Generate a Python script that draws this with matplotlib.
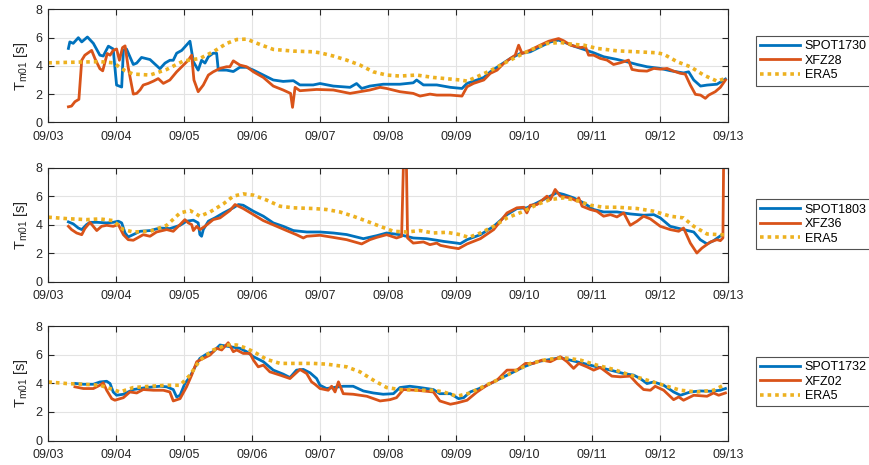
import numpy as np
import pandas as pd
import matplotlib
matplotlib.use("Agg")
import matplotlib.pyplot as plt

plt.rcParams['font.family'] = ['Liberation Sans', 'DejaVu Sans']
plt.rcParams['mathtext.fontset'] = 'custom'
plt.rcParams['mathtext.rm'] = 'Liberation Sans'
plt.rcParams['mathtext.it'] = 'Liberation Sans:italic'

T0 = pd.Timestamp('2023-09-03 00:00')
xticks_labels = ['09/03', '09/04', '09/05', '09/06', '09/07', '09/08',
                 '09/09', '09/10', '09/11', '09/12', '09/13']
yticks = [0, 2, 4, 6, 8]

# ---------------- Panel 1 ----------------
p1_spot_h = [7.1, 7.6, 8.8, 10.6, 11.8, 13.8, 15.9, 18.2, 19.4, 21.2, 22.9, 23.5, 24.1, 25.9, 26.5,
             27.6, 30.0, 31.2, 32.9, 35.9, 39.4, 41.2, 42.9, 44.1, 45.3, 47.1, 50.0, 51.2, 52.9, 54.1,
             55.3, 56.5, 58.2, 59.4, 60.0, 62.9, 65.3, 67.6, 70.0, 72.4, 75.9, 79.4, 82.9, 86.5, 88.8,
             93.5, 95.9, 100.6, 106.5, 108.8, 110.6, 113.5, 118.2, 124.1, 128.8, 130.0, 132.4, 137.1,
             141.9, 146.0, 147.8, 151.3, 153.7, 156.0, 159.5, 163.1, 166.6, 170.1, 173.6, 177.2, 180.1,
             181.9, 185.5, 189.0, 192.5, 196.0, 200.7, 204.2, 207.8, 211.3, 216.0, 219.5, 224.2, 226.0,
             227.8, 230.2, 232.5, 236.0, 239.0]
p1_spot_v = [5.24, 5.7, 5.6, 6.0, 5.7, 6.05, 5.6, 4.76, 4.7, 5.4, 5.2, 3.9, 2.64, 2.5, 5.1,
             5.2, 4.1, 4.2, 4.6, 4.45, 3.8, 4.2, 4.4, 4.4, 4.9, 5.1, 5.75, 4.3, 3.7, 4.4,
             4.2, 4.65, 4.9, 4.9, 3.7, 3.7, 3.6, 3.9, 3.9, 3.7, 3.35, 3.0, 2.9, 2.95, 2.65,
             2.65, 2.75, 2.57, 2.48, 2.75, 2.4, 2.57, 2.7, 2.7, 2.8, 3.0, 2.65, 2.65,
             2.48, 2.4, 2.76, 3.0, 3.18, 3.58, 4.06, 4.53, 4.88, 5.0, 5.35, 5.7, 5.83,
             5.7, 5.4, 5.17, 4.93, 4.65, 4.46, 4.29, 4.1, 3.94, 3.82, 3.66, 3.5, 3.58,
             3.0, 2.57, 2.64, 2.7, 3.07]
p1_xfz_h = [7.1, 8.2, 9.4, 10.8, 11.8, 12.9, 15.3, 16.5, 18.2, 19.2, 20.8, 21.8, 22.9, 24.1, 25.1,
            26.2, 27.1, 28.2, 30.0, 31.2, 32.4, 33.5, 35.3, 37.1, 38.8, 40.6, 42.9, 45.3, 47.1, 49.4,
            50.6, 51.4, 52.9, 54.7, 56.5, 58.2, 60.6, 62.9, 64.1, 65.3, 67.6, 70.0, 72.4, 75.9, 79.4,
            82.9, 85.5, 86.2, 87.1, 88.8, 94.7, 100.6, 106.5, 110.0, 113.5, 117.1, 119.4, 124.1, 128.8,
            131.2, 134.7, 137.1,
            141.9, 146.0, 147.8, 150.1, 153.7, 156.0, 158.4, 160.7, 163.1, 164.8, 166.0, 167.2, 170.1,
            173.6, 176.6, 180.1, 181.9, 184.3, 187.8, 189.6, 190.7, 192.5, 194.8, 197.2, 199.5, 201.9,
            204.8, 206.0, 208.4, 211.3, 213.7, 216.0, 218.4, 220.7, 223.1, 224.8, 226.6, 228.4, 230.2,
            231.9, 233.1, 235.4, 237.2, 239.0]
p1_xfz_v = [1.1, 1.15, 1.46, 1.63, 4.4, 4.76, 5.1, 4.5, 3.8, 3.65, 4.88, 4.76, 5.1, 5.2, 4.4,
            5.3, 5.42, 3.9, 2.0, 2.05, 2.3, 2.64, 2.76, 2.92, 3.1, 2.76, 3.0, 3.58, 3.94, 4.4,
            4.76, 3.0, 2.17, 2.64, 3.35, 3.58, 3.82, 3.94, 3.94, 4.36, 4.06, 3.94, 3.58, 3.18, 2.57,
            2.29, 2.05, 1.06, 2.48, 2.24, 2.33, 2.29, 2.05, 2.17, 2.29, 2.48, 2.4, 2.17, 2.05,
            1.86, 2.0, 1.93,
            1.93, 1.86, 2.52, 2.76, 3.0, 3.47, 3.7, 4.17, 4.53, 4.76, 5.47, 4.88, 5.12,
            5.47, 5.75, 5.94, 5.78, 5.47, 5.3, 5.35, 4.76, 4.76, 4.53, 4.41, 4.1, 4.22,
            4.41, 3.75, 3.66, 3.63, 3.82, 3.77, 3.82, 3.63, 3.47, 3.42, 2.64, 1.98, 1.93,
            1.7, 1.93, 2.17, 2.48, 3.0]
p1_era_h = [0, 6.5, 18.2, 22.9, 27.1, 30.0, 35.9, 41.8, 47.6, 53.5, 58.2, 62.9, 66.5, 70.0, 74.7,
            79.4, 86.5, 93.5, 95.9, 100.6, 105.3, 110.0, 114.7, 119.4, 124.1, 130.0, 135.9,
            145.4, 147.8, 151.3, 156.0, 160.7, 165.4, 170.1, 176.0, 180.7, 185.5, 189.0, 193.7,
            200.7, 207.8, 214.8, 217.2, 221.9, 226.6, 231.3, 236.0, 239.0]
p1_era_v = [4.22, 4.25, 4.3, 4.22, 3.66, 3.42, 3.35, 3.75, 4.34, 4.53, 5.0, 5.59, 5.87, 5.9, 5.52,
            5.17, 5.05, 5.0, 4.93, 4.7, 4.41, 4.06, 3.58, 3.35, 3.28, 3.35, 3.18,
            3.0, 2.92, 3.23, 3.66, 4.17, 4.65, 5.12, 5.59, 5.66, 5.52, 5.47, 5.24,
            5.07, 5.0, 4.93, 4.83, 4.3, 3.94, 3.35, 2.92, 3.11]

# ---------------- Panel 2 ----------------
p2_spot_h = [7.1, 8.8, 10.6, 11.8, 13.5, 14.7, 17.1, 20.6, 22.9, 24.7, 25.9, 27.1, 28.2, 30.0, 32.4,
             35.9, 39.4, 42.9, 46.5, 48.8, 51.2, 52.9, 53.5, 54.1, 54.7, 56.5, 58.8, 61.8, 65.3, 67.1,
             68.8, 72.4, 75.9, 79.4, 82.9, 86.5, 91.2, 95.9, 100.6, 105.3, 111.2, 115.9, 119.4, 124.1,
             128.8, 133.5, 137.1,
             139.5, 144.2, 145.4, 147.8, 152.5, 157.2, 161.9, 165.4, 168.9, 172.5, 176.0, 179.5, 181.9,
             185.4, 188.9, 192.5, 196.0, 200.7, 205.4, 210.1, 213.7, 216.0, 219.5, 224.2, 227.8, 230.1,
             232.5, 234.8, 237.8]
p2_spot_v = [4.19, 4.05, 3.76, 3.65, 4.0, 4.16, 4.16, 4.12, 4.16, 4.24, 4.12, 3.41, 3.13, 3.3, 3.53,
             3.58, 3.76, 3.72, 3.95, 4.24, 4.31, 4.12, 3.3, 3.18, 3.65, 4.24, 4.47, 4.82, 5.18, 5.41,
             5.36, 4.94, 4.59, 4.12, 3.88, 3.58, 3.48, 3.48, 3.41, 3.3, 3.01, 3.22, 3.41, 3.29,
             3.06, 3.01, 2.9,
             2.82, 2.7, 2.66, 2.94, 3.29, 3.88, 4.7, 5.13, 5.18, 5.53, 5.88, 6.24, 6.12,
             5.88, 5.53, 5.06, 4.89, 4.89, 4.75, 4.66, 4.7, 4.47, 3.88, 3.65, 3.48, 2.94,
             2.64, 2.87, 3.29]
p2_xfz_h = [7.1, 8.2, 10.0, 11.8, 12.9, 14.7, 17.1, 18.8, 20.6, 22.9, 24.7, 26.5, 28.2, 30.0, 33.5,
            35.9, 38.2, 41.8, 44.1, 46.5, 48.2, 49.4, 50.6, 51.2, 52.4, 53.5, 55.3, 58.2, 60.6, 64.1,
            65.9, 68.8, 72.4, 75.9, 80.6, 84.1, 87.6, 90.0, 91.2, 95.9, 100.6, 105.3, 110.6, 113.5,
            115.9, 119.4, 122.9, 124.7, 125.5, 126.3, 126.8, 128.8, 132.4, 134.7, 137.1,
            138.4, 141.9, 144.8, 147.8, 152.5, 157.2, 161.9, 165.4, 167.8, 168.9, 170.1, 172.5, 176.0,
            177.2, 178.9, 180.7, 184.2, 186.6, 187.2, 188.4, 191.3, 193.6, 196.0, 198.4, 200.7, 203.1,
            205.4, 207.8, 210.1, 212.5, 216.0, 219.5, 222.5, 224.2, 226.6, 228.9, 230.7, 233.7, 236.0,
            237.2, 238.1, 238.4]
p2_xfz_v = [3.88, 3.65, 3.41, 3.29, 3.72, 4.16, 3.58, 3.88, 3.95, 3.88, 4.0, 3.29, 2.94, 2.9, 3.29,
            3.18, 3.48, 3.65, 3.53, 4.0, 4.35, 4.12, 4.0, 3.58, 3.88, 3.65, 3.88, 4.35, 4.47, 4.99,
            5.41, 5.13, 4.7, 4.28, 3.88, 3.58, 3.29, 3.06, 3.18, 3.25, 3.1, 2.94, 2.64, 2.94,
            3.1, 3.29, 3.06, 3.18, 9.5, 9.5, 3.06, 2.7, 2.78, 2.59, 2.7,
            2.54, 2.4, 2.31, 2.64, 3.01, 3.65, 4.82, 5.18, 5.22, 4.82, 5.36, 5.41, 6.0,
            5.76, 6.47, 6.0, 5.88, 5.65, 5.88, 5.29, 5.06, 4.94, 4.59, 4.7, 4.54, 4.82,
            3.95, 4.24, 4.59, 4.4, 3.88, 3.65, 3.53, 3.76, 2.7, 2.0, 2.35, 2.78, 2.94,
            2.87, 3.06, 9.5]
p2_era_h = [0, 6.5, 13.5, 18.2, 22.9, 26.5, 30.0, 35.9, 41.8, 46.5, 50.0, 53.5, 57.1, 61.8, 65.3,
            68.8, 72.4, 77.1, 81.8, 86.5, 93.5, 98.2, 102.9, 107.6, 112.4, 117.1, 121.8, 126.5, 131.2,
            135.9, 140.7, 145.4, 148.4, 152.5, 157.2, 161.9, 167.8, 172.5, 177.2, 181.9, 186.6, 191.3,
            196.0, 200.7, 207.8, 213.7, 219.5, 224.2, 227.8, 232.5, 237.2, 239.0]
p2_era_v = [4.52, 4.42, 4.35, 4.4, 4.28, 3.65, 3.48, 3.53, 3.95, 4.82, 4.99, 4.59, 4.89, 5.46, 6.0,
            6.16, 6.07, 5.72, 5.29, 5.18, 5.13, 5.06, 4.89, 4.59, 4.24, 3.88, 3.53, 3.48, 3.58,
            3.41, 3.46, 3.29, 3.1, 3.41, 3.88, 4.47, 4.94, 5.41, 5.76, 5.88, 5.69, 5.36,
            5.22, 5.22, 5.13, 4.94, 4.59, 4.47, 3.88, 3.34, 3.29, 3.29]

# ---------------- Panel 3 ----------------
p3_spot_h = [9.4, 12.4, 15.9, 18.2, 20.6, 21.8, 22.9, 24.1, 26.5, 30.0, 34.7, 39.4, 41.8, 44.1, 45.3,
             46.5, 48.2, 50.0, 51.8, 53.5, 55.9, 58.2, 60.6, 64.1, 67.6, 70.0, 72.4, 75.9, 79.4, 82.9,
             85.3, 87.6, 90.0, 92.4, 94.7, 95.9, 98.2, 100.6, 104.1, 107.6, 111.2, 114.7, 118.2, 121.8,
             124.1, 127.6, 131.2, 135.9, 138.2,
             141.9, 144.8, 146.6, 148.9, 153.7, 158.4, 163.1, 167.8, 172.5, 177.2, 180.7, 184.2, 188.9,
             193.6, 198.4, 203.1, 206.6, 208.9, 211.3, 213.7, 217.2, 220.7, 223.1, 226.6, 230.1, 233.7,
             237.2, 239.0]
p3_spot_v = [4.0, 3.94, 3.94, 4.1, 4.15, 3.99, 3.4, 3.17, 3.24, 3.57, 3.71, 3.8, 3.76, 3.57, 3.05,
             3.17, 3.99, 4.46, 5.16, 5.75, 6.06, 6.22, 6.69, 6.57, 6.46, 6.22, 5.87, 5.52, 4.93, 4.65,
             4.41, 4.93, 4.98, 4.74, 4.34, 3.87, 3.64, 3.71, 3.8, 3.8, 3.47, 3.33, 3.24, 3.28,
             3.71, 3.8, 3.71, 3.57, 3.28,
             3.28, 2.93, 3.0, 3.4, 3.76, 4.23, 4.69, 5.16, 5.52, 5.68, 5.8, 5.63, 5.4,
             5.16, 4.93, 4.69, 4.58, 4.34, 3.99, 4.1, 3.87, 3.4, 3.17, 3.4, 3.47, 3.45,
             3.52, 3.64]
p3_xfz_h = [9.4, 12.4, 15.9, 18.2, 19.4, 20.6, 22.4, 23.5, 26.5, 28.8, 31.2, 33.5, 37.1, 40.6, 42.9,
            44.1, 46.5, 48.8, 50.6, 52.4, 54.7, 57.1, 59.4, 61.2, 63.5, 65.3, 66.5, 68.8, 71.2, 72.4,
            74.1, 75.9, 78.2, 81.8, 85.3, 88.8, 91.2, 92.9, 94.1, 95.9, 98.8, 100.0, 101.2, 102.4, 104.1,
            107.6, 112.4, 117.1, 120.6, 122.9, 125.3, 130.0, 135.9, 138.2,
            141.9, 144.2, 147.8, 151.3, 154.8, 158.4, 161.9, 165.4, 168.4, 171.3, 174.2, 177.2, 180.7,
            183.1, 185.4, 187.2, 190.1, 192.5, 194.8, 198.9, 201.9, 205.4, 207.8, 210.1, 212.5, 214.2,
            217.2, 220.7, 222.5, 224.2, 227.8, 232.5, 234.8, 236.6, 239.0]
p3_xfz_v = [3.76, 3.64, 3.64, 3.87, 4.04, 3.52, 2.93, 2.82, 3.0, 3.4, 3.33, 3.57, 3.52, 3.52, 3.4,
            2.77, 2.93, 3.76, 4.58, 5.52, 5.75, 5.99, 6.46, 6.34, 6.85, 6.22, 6.34, 6.1, 6.1, 5.63,
            5.16, 5.28, 4.81, 4.58, 4.34, 4.98, 4.69, 4.11, 3.94, 3.64, 3.52, 3.8, 3.4, 4.11, 3.28,
            3.24, 3.1, 2.77, 2.86, 3.0, 3.57, 3.52, 3.4, 2.77,
            2.54, 2.63, 2.82, 3.4, 3.87, 4.23, 4.93, 4.93, 5.4, 5.4, 5.63, 5.52, 5.87,
            5.52, 5.05, 5.4, 5.16, 4.93, 5.12, 4.51, 4.46, 4.51, 3.99, 3.57, 3.52, 3.8,
            3.52, 2.86, 3.05, 2.82, 3.17, 3.1, 3.33, 3.17, 3.33]
p3_era_h = [0, 6.5, 12.4, 18.2, 21.8, 25.3, 30.0, 35.9, 41.8, 46.5, 50.0, 53.5, 58.2, 62.9, 66.5,
            70.0, 73.5, 77.1, 81.8, 86.5, 93.5, 98.2, 105.3, 110.0, 114.7, 119.4, 124.1, 131.2, 135.9,
            139.5, 144.2, 148.9, 153.7, 158.4, 164.2, 170.1, 176.0, 181.9, 187.8, 193.6, 199.5, 205.4,
            211.3, 217.2, 223.1, 228.9, 234.8, 239.0]
p3_era_v = [4.1, 3.99, 3.94, 3.87, 3.64, 3.4, 3.71, 3.8, 3.87, 3.87, 4.58, 5.63, 6.34, 6.69, 6.69,
            6.46, 6.1, 5.68, 5.4, 5.4, 5.4, 5.35, 5.16, 4.81, 4.23, 3.71, 3.57, 3.52, 3.52,
            3.4, 3.1, 3.33, 3.8, 4.23, 4.81, 5.4, 5.68, 5.8, 5.63, 5.28, 4.98, 4.58,
            4.23, 3.87, 3.52, 3.4, 3.52, 3.94]

panels = [
    (('SPOT1730', p1_spot_h, p1_spot_v), ('XFZ28', p1_xfz_h, p1_xfz_v), ('ERA5', p1_era_h, p1_era_v)),
    (('SPOT1803', p2_spot_h, p2_spot_v), ('XFZ36', p2_xfz_h, p2_xfz_v), ('ERA5', p2_era_h, p2_era_v)),
    (('SPOT1732', p3_spot_h, p3_spot_v), ('XFZ02', p3_xfz_h, p3_xfz_v), ('ERA5', p3_era_h, p3_era_v)),
]

colors = ['#0072BD', '#D95319', '#EDB120']
W, H = 870, 465
fig = plt.figure(figsize=(W / 100, H / 100), dpi=100)

# axes boxes in pixels: (top, bottom)
boxes = [(9.5, 122.3), (167.7, 281.5), (326.3, 440.5)]
legend_tops = [36, 199.5, 356.7]
ax_left, ax_right = 48.3, 728.3
txt = '#262626'

def tt(h):
    return T0 + pd.to_timedelta(np.asarray(h, dtype=float), unit='h')

xt = [T0 + pd.Timedelta(days=i) for i in range(len(xticks_labels))]

for i, series in enumerate(panels):
    top, bot = boxes[i]
    ax = fig.add_axes([ax_left / W, 1 - bot / H, (ax_right - ax_left) / W, (bot - top) / H])
    handles = []
    for j, (name, h, v) in enumerate(series):
        if j < 2:
            ln, = ax.plot(tt(h), v, color=colors[j], lw=2.0, label=name, solid_joinstyle='round')
        else:
            ln, = ax.plot(tt(h), v, color=colors[j], lw=2.6, label=name,
                          dashes=(1.0, 1.1), dash_capstyle='butt')
        handles.append(ln)
    ax.set_xlim(xt[0], xt[-1])
    ax.set_ylim(0, 8)
    ax.set_yticks(yticks)
    ax.set_xticks(xt)
    ax.set_xticklabels(xticks_labels)
    ax.grid(True, color='#e3e3e3', lw=0.8)
    ax.set_axisbelow(True)
    ax.tick_params(direction='in', length=4, width=0.8, top=True, right=True,
                   labelsize=9, colors=txt)
    ax.tick_params(axis='x', pad=6)
    ax.tick_params(axis='y', pad=4)
    for s in ax.spines.values():
        s.set_color(txt)
        s.set_linewidth(0.8)
    ax.set_ylabel(r'T$_{\rm m01}$ [s]', fontsize=10.5, color=txt, labelpad=4)
    leg = fig.legend(handles=handles, loc='upper left',
                     bbox_to_anchor=(756 / W, 1 - legend_tops[i] / H),
                     fontsize=9, frameon=True, fancybox=False, edgecolor=txt,
                     handlelength=3.2, handletextpad=0.35, borderpad=0.35,
                     borderaxespad=0, labelspacing=0.2)
    leg.get_frame().set_linewidth(0.8)
    for t in leg.get_texts():
        t.set_color('black')

fig.savefig('out.png', dpi=100)
